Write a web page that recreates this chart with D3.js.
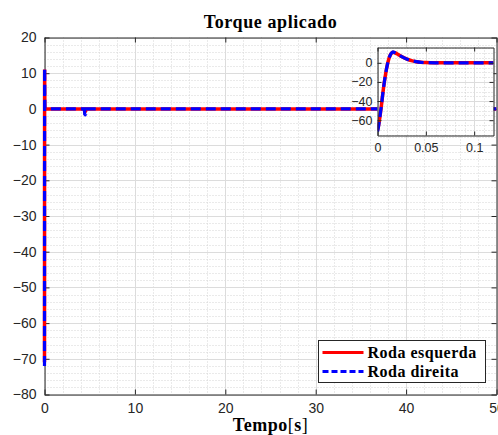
<!DOCTYPE html>
<html>
<head>
<meta charset="utf-8">
<script src="https://cdn.jsdelivr.net/npm/d3@7"></script>
<style>
  body { margin: 0; background: #fff; }
  text { font-family: "Liberation Sans", Arial, sans-serif; }
  .serif { font-family: "Liberation Serif", "DejaVu Serif", serif; }
</style>
</head>
<body>
<svg width="498" height="435"></svg>
<script>
// transient right after t = 0
var tTrans   = [0, 0.001, 0.002, 0.004, 0.006, 0.008, 0.010, 0.012, 0.014, 0.016, 0.018, 0.021, 0.025, 0.030, 0.035, 0.040, 0.045, 0.050, 0.060, 0.080, 0.120];
var esqTrans = [-71, -66, -60, -45, -28, -14, -3, 5, 9.5, 11, 10.5, 9, 6.5, 4, 2.3, 1.2, 0.5, 0.2, 0, 0, 0];
var dirTrans = [-72, -67, -60, -45, -28, -14, -3, 5, 9.5, 11.5, 10.6, 9, 6.5, 4, 2.3, 1.2, 0.5, 0.2, 0, 0, 0];
// small dip around t = 4.5 s and the rest of the run
var tLater   = [0.5, 4.40, 4.45, 4.50, 4.55, 4.60, 50];
var esqLater = [0, 0, -0.6, -0.7, -0.6, 0, 0];
var dirLater = [0, 0, -1.5, -1.6, -1.5, 0, 0];

var xTicks = [0, 10, 20, 30, 40, 50];
var yTicks = [20, 10, 0, -10, -20, -30, -40, -50, -60, -70, -80];
var insetXTicks = [0, 0.05, 0.1];
var insetYTicks = [0, -20, -40, -60];
var seriesNames = ["Roda esquerda", "Roda direita"];
var seriesColors = ["#ff0000", "#0000ff"];

var svg = d3.select("svg");

function pts(ts, vs) {
    return ts.map(function(t, i) { return [t, vs[i]]; });
}
var esq = pts(tTrans, esqTrans).concat(pts(tLater, esqLater));
var dir = pts(tTrans, dirTrans).concat(pts(tLater, dirLater));

// MAIN AXES
var x = d3.scaleLinear().domain([0, 50]).range([44.5, 496.5]);
var y = d3.scaleLinear().domain([-80, 20]).range([394.5, 37.5]);

var defs = svg.append("defs");
defs.append("clipPath").attr("id", "clipMain").append("rect")
    .attr("x", x(0) - 4).attr("y", y(20)).attr("width", x(50) - x(0) + 4).attr("height", y(-80) - y(20));

var grid = svg.append("g");
// minor grid
grid.selectAll(".mx").data(d3.range(2, 50, 2).filter(function(d) { return d % 10 != 0; }))
    .enter().append("line")
    .attr("x1", function(d) { return Math.round(x(d)) + 0.5; })
    .attr("x2", function(d) { return Math.round(x(d)) + 0.5; })
    .attr("y1", y(20)).attr("y2", y(-80))
    .attr("stroke", "#d4d4d4").attr("stroke-dasharray", "1,2");
grid.selectAll(".my").data(d3.range(-78, 20, 2).filter(function(d) { return d % 10 != 0; }))
    .enter().append("line")
    .attr("y1", function(d) { return Math.round(y(d)) + 0.5; })
    .attr("y2", function(d) { return Math.round(y(d)) + 0.5; })
    .attr("x1", x(0)).attr("x2", x(50))
    .attr("stroke", "#d4d4d4").attr("stroke-dasharray", "1,2");
// major grid
grid.selectAll(".gx").data(xTicks).enter().append("line")
    .attr("x1", function(d) { return Math.round(x(d)) + 0.5; })
    .attr("x2", function(d) { return Math.round(x(d)) + 0.5; })
    .attr("y1", y(20)).attr("y2", y(-80))
    .attr("stroke", "#dcdcdc");
grid.selectAll(".gy").data(yTicks).enter().append("line")
    .attr("y1", function(d) { return Math.round(y(d)) + 0.5; })
    .attr("y2", function(d) { return Math.round(y(d)) + 0.5; })
    .attr("x1", x(0)).attr("x2", x(50))
    .attr("stroke", "#dcdcdc");

var axCol = "#262626";
// axes box with inward ticks (drawn under the data lines like MATLAB)
function styleAxis(g, size) {
    g.select(".domain").attr("stroke", axCol);
    g.selectAll("line").attr("stroke", axCol);
    g.selectAll("text").attr("fill", axCol).style("font-size", size)
        .style("font-family", "'Liberation Sans', Arial, sans-serif");
}
svg.append("g").attr("transform", "translate(0," + y(-80) + ")")
    .call(d3.axisBottom(x).tickValues(xTicks).tickSizeInner(-5).tickSizeOuter(0).tickPadding(9))
    .call(styleAxis, "14px");
svg.append("g").attr("transform", "translate(0," + y(20) + ")")
    .call(d3.axisTop(x).tickValues(xTicks).tickSizeInner(-5).tickSizeOuter(0).tickFormat(""))
    .call(styleAxis, "14px");
svg.append("g").attr("transform", "translate(" + x(0) + ",0)")
    .call(d3.axisLeft(y).tickValues(yTicks).tickSizeInner(-5).tickSizeOuter(0).tickPadding(8))
    .call(styleAxis, "14px");
svg.append("g").attr("transform", "translate(" + x(50) + ",0)")
    .call(d3.axisRight(y).tickValues(yTicks).tickSizeInner(-5).tickSizeOuter(0).tickFormat(""))
    .call(styleAxis, "14px");

var line = d3.line().x(function(d) { return x(d[0]); }).y(function(d) { return y(d[1]); });
var plot = svg.append("g").attr("clip-path", "url(#clipMain)");
plot.append("path").datum(esq).attr("d", line)
    .attr("fill", "none").attr("stroke", seriesColors[0]).attr("stroke-width", 3.5);
plot.append("path").datum(dir).attr("d", line)
    .attr("fill", "none").attr("stroke", seriesColors[1]).attr("stroke-width", 3.2)
    .attr("stroke-dasharray", "10,5");

// title and x label
svg.append("text").attr("class", "serif")
    .attr("x", (x(0) + x(50)) / 2).attr("y", 28)
    .attr("text-anchor", "middle").attr("font-weight", "bold").attr("font-size", "18px")
    .attr("letter-spacing", "0.6px")
    .text("Torque aplicado");
var xl = svg.append("text").attr("class", "serif")
    .attr("x", (x(0) + x(50)) / 2).attr("y", 431)
    .attr("text-anchor", "middle").attr("font-size", "18px").attr("letter-spacing", "0.5px");
xl.append("tspan").attr("font-weight", "bold").text("Tempo");
xl.append("tspan").text("[");
xl.append("tspan").attr("font-weight", "bold").text("s");
xl.append("tspan").text("]");

// INSET
var xi = d3.scaleLinear().domain([0, 0.12]).range([377.5, 493.5]);
var yi = d3.scaleLinear().domain([-76, 16]).range([135.5, 47.5]);
var inset = svg.append("g");
defs.append("clipPath").attr("id", "clipInset").append("rect")
    .attr("x", xi(0)).attr("y", yi(16)).attr("width", xi(0.12) - xi(0)).attr("height", yi(-76) - yi(16));
inset.append("rect")
    .attr("x", xi(0)).attr("y", yi(16)).attr("width", xi(0.12) - xi(0)).attr("height", yi(-76) - yi(16))
    .attr("fill", "#fff");
inset.selectAll(".imx").data(d3.range(0.01, 0.12, 0.01))
    .enter().append("line")
    .attr("x1", function(d) { return Math.round(xi(d)) + 0.5; })
    .attr("x2", function(d) { return Math.round(xi(d)) + 0.5; })
    .attr("y1", yi(16)).attr("y2", yi(-76))
    .attr("stroke", "#d0d0d0").attr("stroke-dasharray", "1,2");
inset.selectAll(".imy").data(d3.range(-75, 16, 5).filter(function(d) { return d % 20 != 0; }))
    .enter().append("line")
    .attr("y1", function(d) { return Math.round(yi(d)) + 0.5; })
    .attr("y2", function(d) { return Math.round(yi(d)) + 0.5; })
    .attr("x1", xi(0)).attr("x2", xi(0.12))
    .attr("stroke", "#d0d0d0").attr("stroke-dasharray", "1,2");
inset.selectAll(".igx").data(insetXTicks).enter().append("line")
    .attr("x1", function(d) { return Math.round(xi(d)) + 0.5; })
    .attr("x2", function(d) { return Math.round(xi(d)) + 0.5; })
    .attr("y1", yi(16)).attr("y2", yi(-76))
    .attr("stroke", "#dcdcdc");
inset.selectAll(".igy").data(insetYTicks).enter().append("line")
    .attr("y1", function(d) { return Math.round(yi(d)) + 0.5; })
    .attr("y2", function(d) { return Math.round(yi(d)) + 0.5; })
    .attr("x1", xi(0)).attr("x2", xi(0.12))
    .attr("stroke", "#dcdcdc");

var lineI = d3.line().x(function(d) { return xi(d[0]); }).y(function(d) { return yi(d[1]); })
    .curve(d3.curveMonotoneX);
var iplot = inset.append("g").attr("clip-path", "url(#clipInset)");
iplot.append("path").datum(pts(tTrans, esqTrans)).attr("d", lineI)
    .attr("fill", "none").attr("stroke", seriesColors[0]).attr("stroke-width", 3.5);
iplot.append("path").datum(pts(tTrans, dirTrans)).attr("d", lineI)
    .attr("fill", "none").attr("stroke", seriesColors[1]).attr("stroke-width", 3.2)
    .attr("stroke-dasharray", "10,5");

inset.append("g").attr("transform", "translate(0," + yi(-76) + ")")
    .call(d3.axisBottom(xi).tickValues(insetXTicks).tickSizeInner(-4).tickSizeOuter(0).tickPadding(8)
        .tickFormat(function(d) { return d === 0 ? "0" : String(d); }))
    .call(styleAxis, "12.5px");
inset.append("g").attr("transform", "translate(0," + yi(16) + ")")
    .call(d3.axisTop(xi).tickValues(insetXTicks).tickSizeInner(-4).tickSizeOuter(0).tickFormat(""))
    .call(styleAxis, "12px");
inset.append("g").attr("transform", "translate(" + xi(0) + ",0)")
    .call(d3.axisLeft(yi).tickValues(insetYTicks).tickSizeInner(-4).tickSizeOuter(0).tickPadding(5))
    .call(styleAxis, "12.5px");
inset.append("g").attr("transform", "translate(" + xi(0.12) + ",0)")
    .call(d3.axisRight(yi).tickValues(insetYTicks).tickSizeInner(-4).tickSizeOuter(0).tickFormat(""))
    .call(styleAxis, "12px");

// LEGEND
var leg = svg.append("g").attr("transform", "translate(318.5,340.5)");
leg.append("rect").attr("width", 167).attr("height", 42)
    .attr("fill", "#fff").attr("stroke", axCol);
var item = leg.selectAll(".item").data(seriesNames).enter().append("g")
    .attr("transform", function(d, i) { return "translate(0," + (12 + i * 19) + ")"; });
item.append("line").attr("x1", 4).attr("x2", 45)
    .attr("stroke", function(d, i) { return seriesColors[i]; })
    .attr("stroke-width", 3)
    .attr("stroke-dasharray", function(d, i) { return i == 1 ? "6,3" : null; });
item.append("text").attr("class", "serif")
    .attr("x", 49).attr("y", 5)
    .attr("font-weight", "bold").attr("font-size", "16px").attr("fill", "#000")
    .attr("letter-spacing", "0.5px")
    .text(function(d) { return d; });
</script>
</body>
</html>
